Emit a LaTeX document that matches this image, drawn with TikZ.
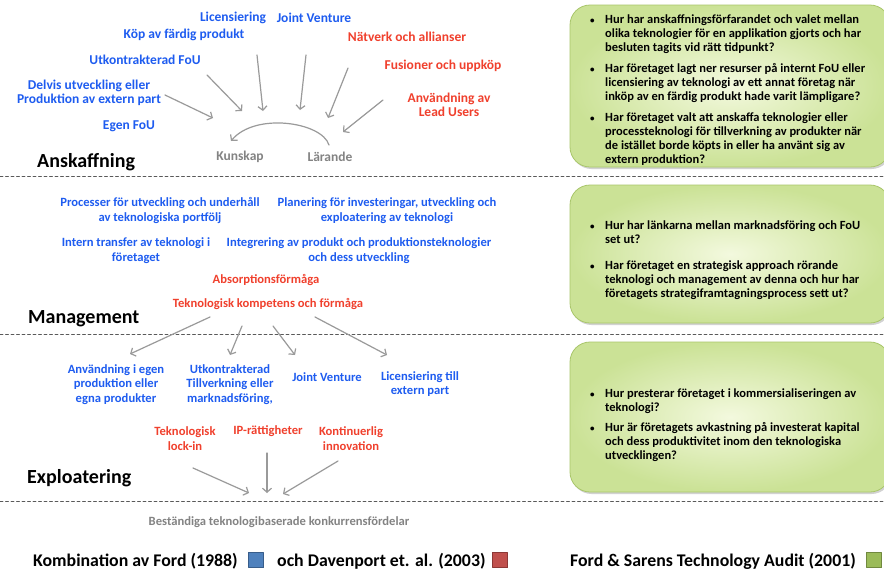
\documentclass[tikz,border=0pt]{standalone}
\usepackage{fontspec}
\setmainfont{Carlito}
\usetikzlibrary{arrows.meta,shadows}
\definecolor{lblblue}{HTML}{1E5CF0}
\definecolor{lblred}{HTML}{F0402D}
\definecolor{arrgray}{HTML}{9A9A9A}
\definecolor{boxline}{HTML}{A9C66B}
\definecolor{boxin}{HTML}{F3F9DE}
\definecolor{boxout}{HTML}{CBE296}
\definecolor{legblue}{HTML}{4F81BD}
\definecolor{legbluedk}{HTML}{385D8A}
\definecolor{legred}{HTML}{C0504D}
\definecolor{legreddk}{HTML}{8C3836}
\definecolor{leggreen}{HTML}{9BBB59}
\definecolor{leggreendk}{HTML}{71893F}
\begin{document}
\begin{tikzpicture}[x=1pt,y=-1pt,line join=round,line cap=round,
  lbl/.style={font=\bfseries\fontsize{13.5}{14.5}\selectfont,align=center,inner sep=0pt},
  small lbl/.style={font=\bfseries\fontsize{12.6}{14.5}\selectfont},
  blue lbl/.style={lbl,text=lblblue},
  red lbl/.style={lbl,text=lblred},
  gray lbl/.style={lbl,text=arrgray!85!black},
  phase/.style={font=\bfseries\fontsize{20}{22}\selectfont,anchor=west,inner sep=0pt},
  sep/.style={draw=black!65,line width=.7pt,dash pattern=on 3pt off 2.5pt},
  flow/.style={draw=arrgray,line width=1.2pt,-{Straight Barb[length=4pt,width=9pt]}},
  qbox/.style={draw=boxline,line width=.8pt,rounded corners=20pt,inner color=boxin,outer color=boxout,
    drop shadow={shadow xshift=1.5pt,shadow yshift=-2pt,opacity=.35}},
  bul/.style={font=\bfseries\fontsize{12.5}{14}\selectfont,align=left,anchor=base west,inner sep=0pt},
  dot/.style={font=\bfseries\fontsize{9}{14}\selectfont,anchor=base west,inner sep=0pt},
  legend/.style={font=\bfseries\fontsize{17.8}{20}\selectfont,anchor=west,inner sep=0pt},
  sq/.style={line width=1pt,minimum size=15pt,inner sep=0pt}]
\useasboundingbox[fill=white] (0,0) rectangle (884,571);

% --- question boxes (Ford & Sarens)
\draw[qbox] (570,5) rectangle (890,167);
\draw[qbox] (570,185) rectangle (890,323);
\draw[qbox] (570,342) rectangle (890,492);

% --- phase separators
\draw[sep] (0,176)--(884,176);
\draw[sep] (0,334)--(884,334);
\draw[sep] (0,501)--(884,501);

% --- Anskaffning
\node[blue lbl] (lic) at (233,18) {Licensiering};
\node[blue lbl] (jv) at (314,18) {Joint Venture};
\node[blue lbl] (kop) at (184,35) {Köp av färdig produkt};
\node[red lbl] (natv) at (407,37) {Nätverk och allianser};
\node[blue lbl] (utfou) at (145,60) {Utkontrakterad FoU};
\node[red lbl] (fus) at (443,66) {Fusioner och uppköp};
\node[blue lbl] (delvis) at (89,93) {Delvis utveckling eller\\Produktion av extern part};
\node[red lbl] (lead) at (449,105) {Användning av\\Lead Users};
\node[blue lbl] (egen) at (129,126) {Egen FoU};
\node[gray lbl] (kunskap) at (240,157) {Kunskap};
\node[gray lbl] (larande) at (330,157) {Lärande};
\node[phase] (ansk) at (37,162) {Anskaffning};

\path (165,95) coordinate (a1s) (213,118) coordinate (a1e)
  (207,75) coordinate (a2s) (242,111) coordinate (a2e)
  (257,55) coordinate (a3s) (263,111) coordinate (a3e)
  (306,55) coordinate (a4s) (300,110) coordinate (a4e)
  (348,68) coordinate (a5s) (328,118) coordinate (a5e)
  (383,100) coordinate (a6s) (343,132) coordinate (a6e);
\foreach \i in {1,...,6} \draw[flow] (a\i s)--(a\i e);
\path (329,145) coordinate (arcs) (231,141) coordinate (arce);
\draw[flow] (arcs)..controls (322,122) and (255,112)..(arce);

% --- Management
\node[blue lbl,small lbl] (proc) at (160,210.5) {Processer för utveckling och underhåll\\av teknologiska portfölj};
\node[blue lbl,small lbl] (plan) at (387,210.5) {Planering för investeringar, utveckling och\\exploatering av teknologi};
\node[blue lbl,small lbl] (intern) at (136,250.5) {Intern transfer av teknologi i\\företaget};
\node[blue lbl,small lbl] (integ) at (359,250.5) {Integrering av produkt och produktionsteknologier\\och dess utveckling};
\node[red lbl,small lbl] (absorp) at (266,280) {Absorptionsförmåga};
\node[red lbl,small lbl] (komp) at (268,304) {Teknologisk kompetens och förmåga};
\node[phase] (mgmt) at (28,319) {Management};

\path (210,317) coordinate (m1s) (130,354) coordinate (m1e)
  (242,326) coordinate (m2s) (230,355) coordinate (m2e)
  (273,326) coordinate (m3s) (295,355) coordinate (m3e)
  (315,317) coordinate (m4s) (387,355) coordinate (m4e);
\foreach \i in {1,...,4} \draw[flow] (m\i s)--(m\i e);

% --- Exploatering
\node[blue lbl,small lbl] (egenprod) at (116,384.5) {Användning i egen\\produktion eller\\egna produkter};
\node[blue lbl,small lbl] (tillv) at (230,384.5) {Utkontrakterad\\Tillverkning eller\\marknadsföring,};
\node[blue lbl,small lbl] (jv2) at (327,377) {Joint Venture};
\node[blue lbl,small lbl] (lic2) at (420,384) {Licensiering till\\extern part};
\node[red lbl,small lbl] (lockin) at (185,438.5) {Teknologisk\\lock-in};
\node[red lbl,small lbl] (ip) at (268,431) {IP-rättigheter};
\node[red lbl,small lbl] (kont) at (351,438.5) {Kontinuerlig\\innovation};
\node[phase] (expl) at (27,478) {Exploatering};

\path (193,468) coordinate (e1s) (249,493) coordinate (e1e)
  (267,453) coordinate (e2s) (267,493) coordinate (e2e)
  (338,461) coordinate (e3s) (283,494) coordinate (e3e);
\foreach \i in {1,...,3} \draw[flow] (e\i s)--(e\i e);

\node[gray lbl,small lbl] (fordel) at (279,522) {Beständiga teknologibaserade konkurrensfördelar};

% --- questions (anchored on the last line's baseline)
\foreach \y in {23,72,121} \node[dot] at (590,\y) {•};
\node[bul] (q1) at (605,51) {Hur har anskaffningsförfarandet och valet mellan\\olika teknologier för en applikation gjorts och har\\besluten tagits vid rätt tidpunkt?};
\node[bul] (q2) at (605,100) {Har företaget lagt ner resurser på internt FoU eller\\licensiering av teknologi av ett annat företag när\\inköp av en färdig produkt hade varit lämpligare?};
\node[bul] (q3) at (605,163) {Har företaget valt att anskaffa teknologier eller\\processteknologi för tillverkning av produkter när\\de istället borde köpts in eller ha använt sig av\\extern produktion?};
\foreach \y in {229,269} \node[dot] at (590,\y) {•};
\node[bul] (q4) at (605,243) {Hur har länkarna mellan marknadsföring och FoU\\set ut?};
\node[bul] (q5) at (605,297) {Har företaget en strategisk approach rörande\\teknologi och management av denna och hur har\\företagets strategiframtagningsprocess sett ut?};
\foreach \y in {397,431} \node[dot] at (590,\y) {•};
\node[bul] (q6) at (605,411) {Hur presterar företaget i kommersialiseringen av\\teknologi?};
\node[bul] (q7) at (605,459) {Hur är företagets avkastning på investerat kapital\\och dess produktivitet inom den teknologiska\\utvecklingen?};

% --- legend
\node[legend] (leg1) at (33,561) {Kombination av Ford (1988)};
\node[sq,fill=legblue,draw=legbluedk] (sqblue) at (256,560) {};
\node[legend] (leg2) at (277,561) {och Davenport et. al. (2003)};
\node[sq,fill=legred,draw=legreddk] (sqred) at (500,560) {};
\node[legend] (leg3) at (570,561) {Ford \& Sarens Technology Audit (2001)};
\node[sq,fill=leggreen,draw=leggreendk] (sqgreen) at (874,560) {};
\end{tikzpicture}
\end{document}
